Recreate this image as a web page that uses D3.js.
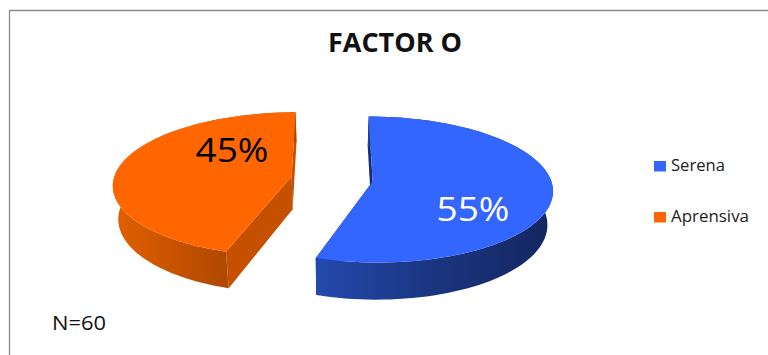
<!DOCTYPE html>
<html>
<head>
<meta charset="utf-8">
<script src="https://cdn.jsdelivr.net/npm/d3@7"></script>
<style>
html,body{margin:0;padding:0;background:#fff;}
svg{display:block;}
text{font-family:"Open Sans",sans-serif;}
</style>
</head>
<body>
<svg id="chart" width="768" height="355"></svg>
<script>
// Survey result for factor O
const categories = ["Serena", "Aprensiva"];
const shares = [55, 45];
const chartTitle = "FACTOR O";
const sampleNote = "N=60";

const topColors = ["#3366ff", "#ff6600"];
const rimStops = [["#2449ae", "#1a3580", "#13265f"], ["#e06000", "#c95400", "#b04800"]];
const cutColors = ["#162c72", "#c45000"];
const labelColors = ["#ffffff", "#000000"];

const svg = d3.select("#chart");
const defs = svg.append("defs");

// Chart frame: only the top and left edges are ruled
svg.append("path")
  .attr("d", d3.line()([[9.5, 355], [9.5, 10.5], [768, 10.5]]))
  .attr("fill", "none").attr("stroke", "#8a8a8a").attr("stroke-width", 1.3);

// Perspective model of the tilted, exploded pie
const view = {x: 332, y: 179, radius: 178, tilt: 0.402, persp: 0.108, depth: 33, baseShrink: 0.975, explode: 41};

function project(X, Y, lower) {
  const s = 1 / (1 + view.persp * Y / view.radius);
  const xs = lower ? s * view.baseShrink : s;
  return [
    view.x + X * xs,
    view.y - view.tilt * Y * s + (lower ? view.depth * s : 0)
  ];
}

const pieGen = d3.pie().sort(null).value(d => d);
const arcs = pieGen(shares);
const angleSamples = 90;

arcs.forEach((a, i) => {
  const mid = (a.startAngle + a.endAngle) / 2;
  const ox = view.explode * Math.sin(mid);
  const oy = view.explode * Math.cos(mid);
  const rim = lower => d3.range(angleSamples + 1).map(k => {
    const t = a.startAngle + (a.endAngle - a.startAngle) * k / angleSamples;
    return project(ox + view.radius * Math.sin(t), oy + view.radius * Math.cos(t), lower);
  });
  const apex = lower => project(ox, oy, lower);
  const line = d3.line();
  const upper = rim(false), under = rim(true);

  // Horizontal shading across the curved outer wall
  const xs = upper.concat(under).map(p => p[0]);
  const g = defs.append("linearGradient").attr("id", "rim" + i)
    .attr("gradientUnits", "userSpaceOnUse")
    .attr("x1", i === 0 ? upper[0][0] - 50 : d3.min(xs))
    .attr("x2", i === 0 ? d3.max(xs) : upper[0][0])
    .attr("y1", 0).attr("y2", 0);
  if (i === 0) g.attr("x1", upper[angleSamples][0]);
  rimStops[i].forEach((c, k) => g.append("stop")
    .attr("offset", k / (rimStops[i].length - 1)).attr("stop-color", c));

  const group = svg.append("g").attr("class", "slice");

  // Straight cut faces
  [[upper[0], under[0]], [upper[angleSamples], under[angleSamples]]].forEach(([u, d]) => {
    group.append("path")
      .attr("d", line([apex(false), u, d, apex(true)]) + "Z")
      .attr("fill", cutColors[i]);
  });
  // Curved outer wall
  group.append("path")
    .attr("d", line(upper.concat(under.slice().reverse())) + "Z")
    .attr("fill", `url(#rim${i})`);
  // Top face
  group.append("path")
    .attr("d", line([apex(false)].concat(upper)) + "Z")
    .attr("fill", topColors[i]);
});

// Percentage labels on the top faces
const labelAnchors = [[473, 221], [232, 162]];
arcs.forEach((a, i) => {
  svg.append("text")
    .attr("x", labelAnchors[i][0]).attr("y", labelAnchors[i][1])
    .attr("text-anchor", "middle")
    .attr("font-size", 33)
    .attr("textLength", 73).attr("lengthAdjust", "spacingAndGlyphs")
    .attr("fill", labelColors[i])
    .text(a.data + "%");
});

// Title
svg.append("text")
  .attr("x", 395).attr("y", 52)
  .attr("text-anchor", "middle")
  .attr("font-size", 27).attr("font-weight", 700)
  .attr("textLength", 134).attr("lengthAdjust", "spacingAndGlyphs")
  .attr("fill", "#111")
  .text(chartTitle);

// Legend
const legendY = d3.scalePoint().domain(categories).range([166, 217]);
categories.forEach((c, i) => {
  svg.append("rect")
    .attr("x", 654).attr("y", legendY(c) - 5)
    .attr("width", 12).attr("height", 10.5)
    .attr("fill", topColors[i]);
  svg.append("text")
    .attr("x", 671).attr("y", legendY(c) + 5)
    .attr("font-size", 16.5)
    .attr("textLength", i === 0 ? 54 : 78).attr("lengthAdjust", "spacingAndGlyphs")
    .attr("fill", "#222")
    .text(c);
});

// Sample size note
svg.append("text")
  .attr("x", 52).attr("y", 330)
  .attr("font-size", 20)
  .attr("textLength", 54).attr("lengthAdjust", "spacingAndGlyphs")
  .attr("fill", "#111")
  .text(sampleNote);
</script>
</body>
</html>
